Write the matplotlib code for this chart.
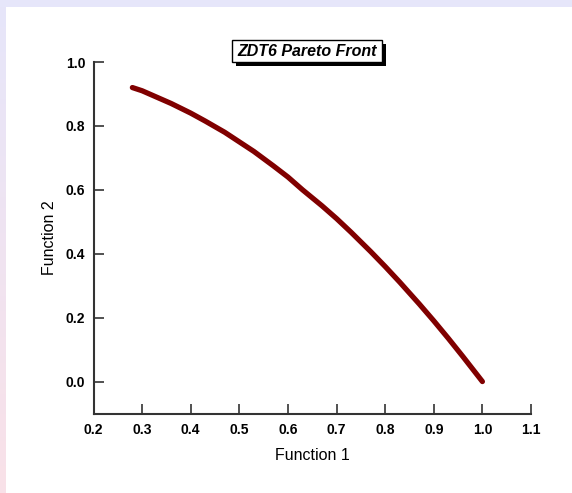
import numpy as np
import matplotlib
matplotlib.use("Agg")
import matplotlib.pyplot as plt
from matplotlib.patches import Rectangle
from matplotlib.colors import LinearSegmentedColormap

# Data
f1 = [0.28, 0.30, 0.33, 0.36, 0.40, 0.43, 0.47, 0.50, 0.53, 0.57, 0.60, 0.63,
      0.67, 0.70, 0.73, 0.77, 0.80, 0.83, 0.87, 0.90, 0.93, 0.96, 1.00]
f2 = [0.92, 0.91, 0.89, 0.87, 0.84, 0.815, 0.78, 0.75, 0.72, 0.675, 0.64, 0.60,
      0.55, 0.51, 0.467, 0.407, 0.36, 0.311, 0.243, 0.19, 0.135, 0.078, 0.00]
xticks = [0.2, 0.3, 0.4, 0.5, 0.6, 0.7, 0.8, 0.9, 1.0, 1.1]
yticks = [0.0, 0.2, 0.4, 0.6, 0.8, 1.0]
title = "ZDT6 Pareto Front"
xlabel = "Function 1"
ylabel = "Function 2"

W, H = 572, 493
fig = plt.figure(figsize=(W / 100, H / 100), dpi=100)
fig.patch.set_facecolor("white")
plt.rcParams['font.family'] = ['Liberation Sans', 'DejaVu Sans']

# Frame bands (top and left gradient)
fig.patches.append(Rectangle((0, 1 - 7 / H), 1, 7 / H, transform=fig.transFigure,
                             facecolor="#E6E6FA", edgecolor="none", zorder=0))
bg = fig.add_axes([0, 0, 6 / W, 1])
grad = np.linspace(0, 1, 256).reshape(-1, 1)
cm = LinearSegmentedColormap.from_list("g", ["#E6E6FA", "#F9E1E8"])
bg.imshow(grad, aspect="auto", cmap=cm, extent=[0, 1, 0, 1], origin="upper")
bg.axis("off")

left, right = 93.5 / W, 531 / W
bottom, top = 1 - 413.5 / H, 1 - 62 / H
ax = fig.add_axes([left, bottom, right - left, top - bottom])
ax.plot(f1, f2, color="#800000", linewidth=3.8, solid_capstyle="round",
        solid_joinstyle="round")
ax.set_xlim(0.2, 1.1)
ax.set_ylim(-0.1, 1.0)
ax.set_xticks(xticks)
ax.set_yticks(yticks)
ax.set_xticklabels([f"{v:.1f}" for v in xticks], fontsize=10, fontweight="bold")
ax.set_yticklabels([f"{v:.1f}" for v in yticks], fontsize=10, fontweight="bold")
ax.tick_params(direction="in", length=7.5, width=1.2, color="#333333", pad=6)
ax.tick_params(axis="x", pad=7)
for s in ["top", "right"]:
    ax.spines[s].set_visible(False)
for s in ["left", "bottom"]:
    ax.spines[s].set_linewidth(1.5)
    ax.spines[s].set_color("#333333")
ax.set_xlabel(xlabel, fontsize=11.5, labelpad=8)
ax.set_ylabel(ylabel, fontsize=11.5, labelpad=6)

# Title box with drop shadow
bx0, by0, bx1, by1 = 232, 40, 382, 62   # pixel coords from top-left
fig.patches.append(Rectangle(((bx0 + 4) / W, 1 - (by1 + 4) / H), (bx1 - bx0) / W,
                             (by1 - by0) / H, transform=fig.transFigure,
                             facecolor="black", edgecolor="none", zorder=1))
fig.patches.append(Rectangle((bx0 / W, 1 - by1 / H), (bx1 - bx0) / W,
                             (by1 - by0) / H, transform=fig.transFigure,
                             facecolor="white", edgecolor="black", linewidth=1,
                             zorder=2))
fig.text((bx0 + bx1) / 2 / W, 1 - (by0 + by1) / 2 / H, title, ha="center",
         va="center", fontsize=11.5, fontstyle="italic", fontweight="bold",
         zorder=3)

fig.savefig("out.png", dpi=100)
